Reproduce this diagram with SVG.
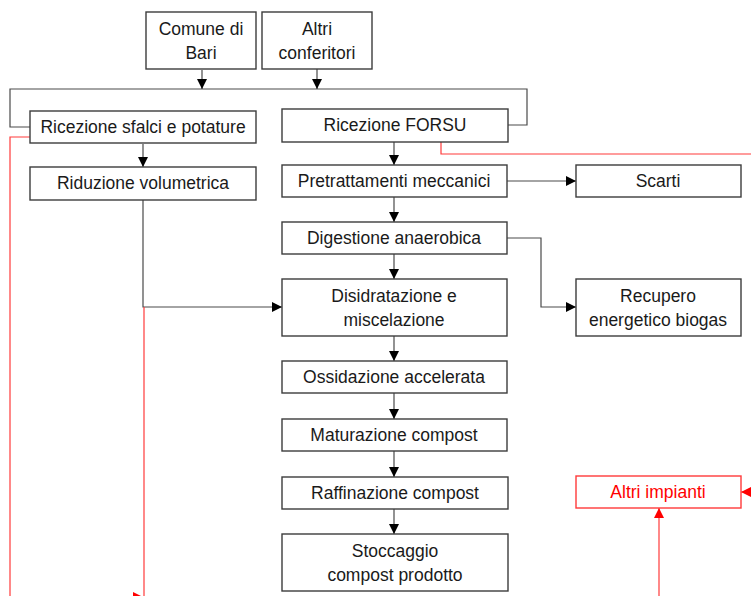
<svg xmlns="http://www.w3.org/2000/svg" width="751" height="596" viewBox="0 0 751 596">
<style>
.box{fill:#fff;stroke:#3c3c3c;stroke-width:1.4}
.rbox{fill:#fff;stroke:#ff3a3a;stroke-width:1.4}
text{font-family:"Liberation Sans",Arial,sans-serif;font-size:17.5px;fill:#1a1a1a;text-anchor:middle}
.rt{fill:#ff0000}
.ln{fill:none;stroke:#4a4a4a;stroke-width:1.2}
.rl{fill:none;stroke:#ff3a3a;stroke-width:1.2}
</style>
<defs>
<marker id="a" markerUnits="userSpaceOnUse" markerWidth="11" markerHeight="11" refX="10" refY="5" orient="auto"><path d="M0,0 L10,5 L0,10 z" fill="#000"/></marker>
<marker id="r" markerUnits="userSpaceOnUse" markerWidth="11" markerHeight="11" refX="10" refY="5" orient="auto"><path d="M0,0 L10,5 L0,10 z" fill="#ff0000"/></marker>
</defs>
<g id="connectors">
<path class="ln" d="M30,127 H10 V89 H527 V125 H508"/>
<path class="ln" d="M202,70 V89" marker-end="url(#a)"/>
<path class="ln" d="M317,69 V89" marker-end="url(#a)"/>
<path class="ln" d="M143,144 V167" marker-end="url(#a)"/>
<path class="ln" d="M394,142 V165" marker-end="url(#a)"/>
<path class="ln" d="M507,181 H576" marker-end="url(#a)"/>
<path class="ln" d="M394,197 V222" marker-end="url(#a)"/>
<path class="ln" d="M394,254 V279" marker-end="url(#a)"/>
<path class="ln" d="M507,238 H541 V307 H576" marker-end="url(#a)"/>
<path class="ln" d="M143,200 V307 H282" marker-end="url(#a)"/>
<path class="ln" d="M394,336 V361" marker-end="url(#a)"/>
<path class="ln" d="M394,393 V419" marker-end="url(#a)"/>
<path class="ln" d="M394,451 V477" marker-end="url(#a)"/>
<path class="ln" d="M394,509 V534" marker-end="url(#a)"/>
<path class="rl" d="M30,137 H10 V597 H143" marker-end="url(#r)"/>
<path class="rl" d="M144,307 V600"/>
<path class="rl" d="M441,142 V154 H761 V492 H741" marker-end="url(#r)"/>
<path class="rl" d="M659,600 V508" marker-end="url(#r)"/>
</g>
<g id="comune"><rect class="box" x="146" y="12" width="110" height="57"/><text x="201" y="35">Comune di</text><text x="201" y="59">Bari</text></g>
<g id="altri"><rect class="box" x="262" y="12" width="110" height="57"/><text x="317" y="35">Altri</text><text x="317" y="59">conferitori</text></g>
<g id="ric-sfalci"><rect class="box" x="30" y="111" width="226" height="32"/><text x="143" y="133">Ricezione sfalci e potature</text></g>
<g id="ric-forsu"><rect class="box" x="282" y="109" width="226" height="33"/><text x="395" y="131">Ricezione FORSU</text></g>
<g id="riduzione"><rect class="box" x="30" y="167" width="226" height="33"/><text x="143" y="189">Riduzione volumetrica</text></g>
<g id="pretratt"><rect class="box" x="282" y="165" width="225" height="32"/><text x="394" y="187">Pretrattamenti meccanici</text></g>
<g id="scarti"><rect class="box" x="576" y="165" width="165" height="32"/><text x="658" y="187">Scarti</text></g>
<g id="digestione"><rect class="box" x="282" y="222" width="225" height="32"/><text x="394" y="244">Digestione anaerobica</text></g>
<g id="disidratazione"><rect class="box" x="282" y="279" width="225" height="57"/><text x="394" y="302">Disidratazione e</text><text x="394" y="326">miscelazione</text></g>
<g id="recupero"><rect class="box" x="576" y="279" width="165" height="57"/><text x="658" y="302">Recupero</text><text x="658" y="326">energetico biogas</text></g>
<g id="ossidazione"><rect class="box" x="282" y="361" width="225" height="32"/><text x="394" y="383">Ossidazione accelerata</text></g>
<g id="maturazione"><rect class="box" x="282" y="419" width="225" height="32"/><text x="394" y="441">Maturazione compost</text></g>
<g id="raffinazione"><rect class="box" x="282" y="477" width="226" height="32"/><text x="395" y="499">Raffinazione compost</text></g>
<g id="stoccaggio"><rect class="box" x="282" y="534" width="226" height="57"/><text x="395" y="557">Stoccaggio</text><text x="395" y="581">compost prodotto</text></g>
<g id="altri-impianti"><rect class="rbox" x="576" y="476" width="165" height="32"/><text class="rt" x="658" y="498">Altri impianti</text></g>
</svg>
